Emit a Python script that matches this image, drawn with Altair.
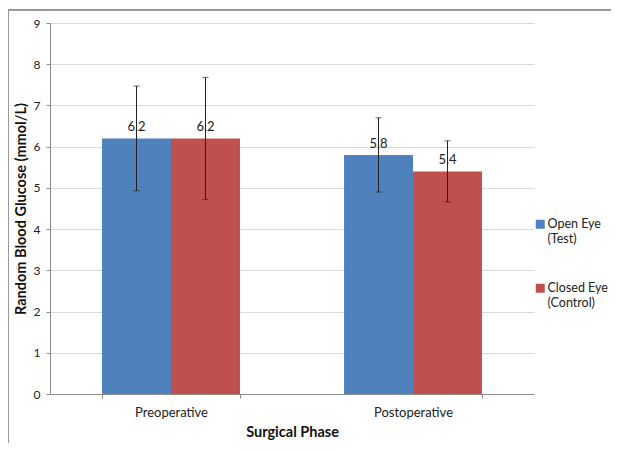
import altair as alt
import pandas as pd

phase = ["Preoperative", "Preoperative", "Postoperative", "Postoperative"]
group = ["Open Eye (Test)", "Closed Eye (Control)", "Open Eye (Test)", "Closed Eye (Control)"]
mean = [6.2, 6.2, 5.8, 5.4]
sd = [1.27, 1.48, 0.90, 0.74]
label = ["6.2", "6.2", "5.8", "5.4"]

phase_order = ["Preoperative", "Postoperative"]
group_order = ["Open Eye (Test)", "Closed Eye (Control)"]
colors = ["#4F81BD", "#C0504D"]

df = pd.DataFrame({"phase": phase, "group": group, "mean": mean, "sd": sd, "label": label})
df["lo"] = df["mean"] - df["sd"]
df["hi"] = df["mean"] + df["sd"]

FONT = "Lato"

x = alt.X("phase:N", sort=phase_order,
          scale=alt.Scale(paddingInner=0.43, paddingOuter=0.215),
          axis=alt.Axis(title="Surgical Phase", labelAngle=0, tickBand="extent",
                        tickSize=4, labelPadding=8, titlePadding=6))
xo = alt.XOffset("group:N", sort=group_order, scale=alt.Scale(paddingInner=0, paddingOuter=0))

base = alt.Chart(df)

bars = base.mark_bar().encode(
    x=x, xOffset=xo,
    y=alt.Y("mean:Q", scale=alt.Scale(domain=[0, 9]),
            axis=alt.Axis(title="Random Blood Glucose (mmol/L)", values=list(range(10)),
                          tickSize=4, labelPadding=6, titlePadding=5)),
    color=alt.Color("group:N", sort=group_order,
                    scale=alt.Scale(domain=group_order, range=colors),
                    legend=alt.Legend(title=None, orient="none", legendX=484, legendY=195,
                                      symbolType="square", symbolSize=81, symbolStrokeWidth=0,
                                      labelExpr="split(replace(datum.label, ' (', '|('), '|')",
                                      labelOffset=1, rowPadding=36, padding=0,
                                      labelFontSize=12.5, labelColor="#222", labelLimit=200)),
)

text = base.mark_text(baseline="bottom", dy=-4, fontSize=13, color="#222", font=FONT).encode(
    x=x, xOffset=xo, y="mean:Q", text="label:N")

rules = base.mark_rule(color="#222", strokeWidth=1).encode(
    x=x, xOffset=xo, y="lo:Q", y2="hi:Q")
cap_lo = base.mark_tick(color="#222", size=6, thickness=1).encode(
    x=x, xOffset=xo, y="lo:Q")
cap_hi = base.mark_tick(color="#222", size=6, thickness=1).encode(
    x=x, xOffset=xo, y="hi:Q")

border_top = alt.Chart(pd.DataFrame({"a": [0]})).mark_rule(color="#999", strokeWidth=2).encode(
    x=alt.value(-42), x2=alt.value(570), y=alt.value(-13))
border_left = alt.Chart(pd.DataFrame({"a": [0]})).mark_rule(color="#999", strokeWidth=2).encode(
    x=alt.value(-42), y=alt.value(-13), y2=alt.value(420))

chart = alt.layer(bars, rules, cap_lo, cap_hi, text, border_top, border_left).properties(
    width=484, height=371,
    autosize=alt.AutoSizeParams(type="none"),
    padding={"left": 42, "top": 15, "right": 77, "bottom": 50},
).configure(font=FONT).configure_view(stroke=None).configure_axis(
    labelFont=FONT, titleFont=FONT, labelFontSize=12, titleFontSize=14.5, labelColor="#222",
    titleColor="#111", titleFontWeight="bold", gridColor="#d9d9d9", domainColor="#8c8c8c",
    tickColor="#8c8c8c",
).configure_axisX(grid=False, labelFontSize=13).configure_legend(labelFont=FONT)

chart.save("out.html", embed_options={"renderer": "svg", "actions": False})
